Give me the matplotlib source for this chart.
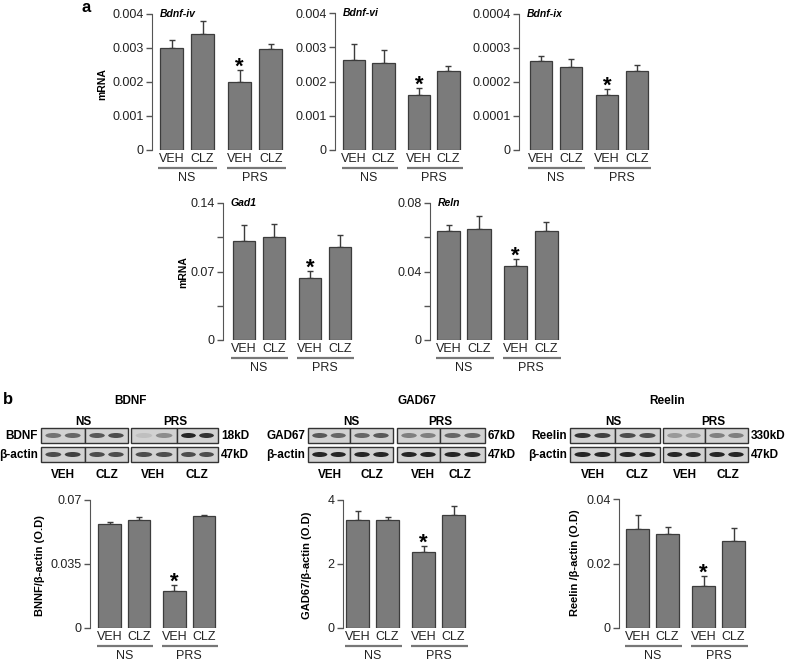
import matplotlib
matplotlib.use('Agg')
import matplotlib.pyplot as plt
from matplotlib.patches import Rectangle, Ellipse
from matplotlib.transforms import offset_copy

plt.rcParams['font.family'] = ['Liberation Sans', 'DejaVu Sans']

W, H = 788, 665

# ---- data ----
conditions = ['VEH', 'CLZ', 'VEH', 'CLZ']
groups = ['NS', 'PRS']
xpos = [0, 1, 2.2, 3.2]
signif = [False, False, True, False]

bdnf_iv = [0.00301, 0.00342, 0.00199, 0.00296]
bdnf_iv_err = [0.00023, 0.00037, 0.00037, 0.00017]
bdnf_vi = [0.00263, 0.00253, 0.00162, 0.00232]
bdnf_vi_err = [0.00046, 0.00039, 0.00019, 0.00012]
bdnf_ix = [0.000262, 0.000243, 0.000161, 0.000232]
bdnf_ix_err = [0.000015, 0.000024, 0.000018, 0.000019]
gad1 = [0.101, 0.105, 0.0635, 0.095]
gad1_err = [0.017, 0.014, 0.0075, 0.012]
reln = [0.0637, 0.0649, 0.0435, 0.0635]
reln_err = [0.0036, 0.0076, 0.0040, 0.0055]

bdnf_od = [0.0569, 0.0593, 0.0200, 0.0613]
bdnf_od_err = [0.0013, 0.0012, 0.0033, 0.0007]
gad67_od = [3.36, 3.38, 2.36, 3.54]
gad67_od_err = [0.31, 0.10, 0.21, 0.28]
reelin_od = [0.0308, 0.0293, 0.0131, 0.0270]
reelin_od_err = [0.0041, 0.0021, 0.0031, 0.0041]

ticks_top = [0, 0.001, 0.002, 0.003, 0.004]
labels_top = ['0', '0.001', '0.002', '0.003', '0.004']
ticks_ix = [0, 0.0001, 0.0002, 0.0003, 0.0004]
labels_ix = ['0', '0.0001', '0.0002', '0.0003', '0.0004']
ticks_gad1 = [0, 0.035, 0.07, 0.105, 0.14]
labels_gad1 = ['0', '', '0.07', '', '0.14']
ticks_reln = [0, 0.02, 0.04, 0.06, 0.08]
labels_reln = ['0', '', '0.04', '', '0.08']
ticks_bdnf = [0, 0.035, 0.07]
labels_bdnf = ['0', '0.035', '0.07']
ticks_gad67 = [0, 2, 4]
labels_gad67 = ['0', '2', '4']
ticks_reelin = [0, 0.02, 0.04]
labels_reelin = ['0', '0.02', '0.04']

# band darkness for the blot sketches (0 = black, 1 = white)
bdnf_bands = [[0.45, 0.40, 0.35, 0.30, 0.75, 0.55, 0.15, 0.20],
              [0.30, 0.25, 0.30, 0.30, 0.30, 0.30, 0.30, 0.30]]
gad67_bands = [[0.35, 0.40, 0.40, 0.35, 0.50, 0.50, 0.40, 0.40],
               [0.15, 0.15, 0.15, 0.15, 0.15, 0.15, 0.15, 0.15]]
reelin_bands = [[0.20, 0.25, 0.30, 0.30, 0.60, 0.60, 0.50, 0.50],
                [0.15, 0.15, 0.15, 0.15, 0.15, 0.15, 0.15, 0.15]]

fig = plt.figure(figsize=(W / 100, H / 100), dpi=100)

# background axes in pixel coords for free text and blots
bg = fig.add_axes([0, 0, 1, 1], zorder=-1)
bg.set_xlim(0, W)
bg.set_ylim(H, 0)
bg.axis('off')

BAR = '#7b7b7b'
EDGE = '#3c3c3c'


def px_rect(l, t, r, b):
    return [l / W, 1 - b / H, (r - l) / W, (b - t) / H]


def bar_panel(spine, top, zero, c0, pitch, vals, errs, ticks, ticklabels, title=None):
    xl = -(c0 - spine) / pitch
    xr = xpos[-1] + 0.45
    right = spine + (xr - xl) * pitch
    ax = fig.add_axes(px_rect(spine, top, right, zero))
    ax.bar(xpos, vals, width=0.76, color=BAR, edgecolor=EDGE, linewidth=0.9, zorder=2)
    ax.errorbar(xpos, vals, yerr=[[0] * len(errs), errs], fmt='none', ecolor=EDGE,
                elinewidth=1, capsize=2.5, capthick=1, zorder=1, clip_on=False)
    ax.set_xlim(xl, xr)
    ax.set_ylim(0, ticks[-1])
    ax.set_yticks(ticks, ticklabels)
    ax.set_xticks(xpos, conditions)
    for s in ['top', 'right', 'bottom']:
        ax.spines[s].set_visible(False)
    ax.spines['left'].set_color('#555555')
    ax.tick_params(axis='y', direction='out', length=4, width=1, color='#555555',
                   labelsize=9, pad=2, labelcolor='#222222')
    ax.tick_params(axis='x', length=0, labelsize=9, pad=2, labelcolor='#222222')
    ax.patch.set_alpha(0)

    for i, s in enumerate(signif):
        if s:
            ax.annotate('*', (xpos[i], vals[i] + errs[i]), xytext=(0, -2),
                        textcoords='offset points', ha='center', va='baseline',
                        fontsize=16, fontweight='bold', annotation_clip=False)

    line_tr = offset_copy(ax.get_xaxis_transform(), fig=fig, y=-18, units='dots')
    text_tr = offset_copy(ax.get_xaxis_transform(), fig=fig, y=-28, units='dots')
    for g, (a, b) in enumerate([(0, 1), (2, 3)]):
        ax.plot([xpos[a] - 0.42, xpos[b] + 0.48], [0, 0], transform=line_tr,
                color='#777777', lw=1.6, clip_on=False, solid_capstyle='butt')
        ax.text((xpos[a] + xpos[b]) / 2, 0, groups[g], transform=text_tr,
                ha='center', va='center', fontsize=9, color='#222222')
    if title:
        bg.text(spine + 8, top, title, ha='left', va='center', fontsize=7.5,
                fontweight='bold', fontstyle='italic')
    return ax


# ---- panel a ----
bar_panel(152, 14, 150, 171.5, 31, bdnf_iv, bdnf_iv_err, ticks_top, labels_top, 'Bdnf-iv')
bar_panel(335, 13, 150, 354, 29.5, bdnf_vi, bdnf_vi_err, ticks_top, labels_top, 'Bdnf-vi')
bar_panel(519, 14, 150, 541, 30, bdnf_ix, bdnf_ix_err, ticks_ix, labels_ix, 'Bdnf-ix')
bar_panel(223, 203, 340, 244, 30, gad1, gad1_err, ticks_gad1, labels_gad1, 'Gad1')
bar_panel(430, 203, 340, 448.5, 30.5, reln, reln_err, ticks_reln, labels_reln, 'Reln')

bg.text(102, 84, 'mRNA', rotation=90, ha='center', va='center', fontsize=7.5, fontweight='bold')
bg.text(183, 272, 'mRNA', rotation=90, ha='center', va='center', fontsize=7.5, fontweight='bold')
bg.text(82, 7, 'a', ha='left', va='center', fontsize=12, fontweight='bold')

# ---- panel b: bars ----
bar_panel(90, 500, 628, 109.5, 29.5, bdnf_od, bdnf_od_err, ticks_bdnf, labels_bdnf)
bar_panel(343, 500, 628, 357.5, 30, gad67_od, gad67_od_err, ticks_gad67, labels_gad67)
bar_panel(619, 499, 628, 637.5, 30, reelin_od, reelin_od_err, ticks_reelin, labels_reelin)

bg.text(40, 566, 'BNNF/β-actin (O.D)', rotation=90, ha='center', va='center', fontsize=8, fontweight='bold')
bg.text(307, 565, 'GAD67/β-actin (O.D)', rotation=90, ha='center', va='center', fontsize=8, fontweight='bold')
bg.text(575, 563, 'Reelin /β-actin (O.D)', rotation=90, ha='center', va='center', fontsize=8, fontweight='bold')
bg.text(3, 399, 'b', ha='left', va='center', fontsize=12, fontweight='bold')

# ---- panel b: blot sketches ----
rows = [(428, 443), (447, 462)]


def blot(boxes, bands, title, title_x, name, kd, ns_x, prs_x, lane_x):
    for r, (t, b) in enumerate(rows):
        for j, (l, rr) in enumerate(boxes):
            bg.add_patch(Rectangle((l, t), rr - l, b - t, facecolor='#d2d2d2',
                                   edgecolor='#333333', lw=1))
            for k in range(2):
                cx = l + (rr - l) * (0.28 + 0.44 * k)
                g = bands[r][2 * j + k]
                bg.add_patch(Ellipse((cx, (t + b) / 2), (rr - l) * 0.36, 5,
                                     facecolor=str(g), edgecolor='none'))
    left = boxes[0][0] - 3
    right = boxes[-1][1] + 3
    bg.text(title_x, 401, title, ha='center', va='center', fontsize=8.5, fontweight='bold')
    bg.text(left, 436, name, ha='right', va='center', fontsize=8.5, fontweight='bold')
    bg.text(left, 455, 'β-actin', ha='right', va='center', fontsize=8.5, fontweight='bold')
    bg.text(right, 436, kd, ha='left', va='center', fontsize=8.5, fontweight='bold')
    bg.text(right, 455, '47kD', ha='left', va='center', fontsize=8.5, fontweight='bold')
    bg.text(ns_x, 422, 'NS', ha='center', va='center', fontsize=8.5, fontweight='bold')
    bg.text(prs_x, 422, 'PRS', ha='center', va='center', fontsize=8.5, fontweight='bold')
    for x, lab in zip(lane_x, conditions):
        bg.text(x, 475, lab, ha='center', va='center', fontsize=8.5, fontweight='bold')


blot([(41, 85), (85, 128), (131, 177), (177, 218)], bdnf_bands, 'BDNF', 130,
     'BDNF', '18kD', 83, 175, [63, 107, 153, 197])
blot([(308, 350), (350, 393), (397, 440), (440, 485)], gad67_bands, 'GAD67', 417,
     'GAD67', '67kD', 351, 440, [330, 372, 423, 460])
blot([(570, 615), (615, 660), (663, 705), (705, 748)], reelin_bands, 'Reelin', 667,
     'Reelin', '330kD', 613, 713, [593, 637, 685, 728])

fig.savefig('out.png', dpi=100)
